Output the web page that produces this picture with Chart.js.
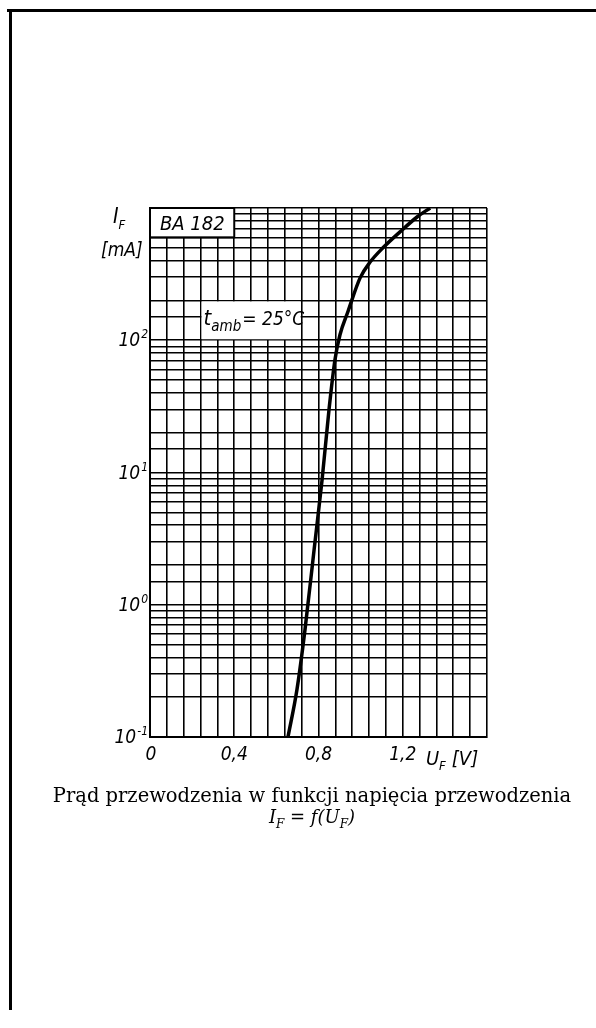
<!DOCTYPE html>
<html>
<head>
<meta charset="utf-8">
<script src="https://cdn.jsdelivr.net/npm/chart.js@4.4.1/dist/chart.umd.min.js"></script>
<style>
html, body { margin: 0; padding: 0; background: #fff; }
body { width: 596px; height: 1028px; position: relative; overflow: hidden; }
#chart { position: absolute; left: 0; top: 0; }
.ruleTop { position: absolute; left: 7px; top: 9px; width: 589px; height: 3px; background: #000; }
.ruleLeft { position: absolute; left: 9px; top: 10px; width: 3px; height: 1000px; background: #000; }
.cap { position: absolute; left: 0; width: 624px; text-align: center; font-family: "DejaVu Serif", serif; color: #000; white-space: nowrap; }
#cap1 { top: 784px; font-size: 19.5px; }
#cap2 { top: 806px; font-size: 18px; font-style: italic; }
#cap2 sub { font-size: 12px; }
</style>
</head>
<body>
<div class="ruleTop"></div>
<div class="ruleLeft"></div>
<canvas id="chart" width="596" height="1028"></canvas>
<div class="cap" id="cap1">Prąd przewodzenia w funkcji napięcia przewodzenia</div>
<div class="cap" id="cap2">I<sub>F</sub> = f(U<sub>F</sub>)</div>
<script>
// BA 182, I_F = f(U_F)
const curveVolts     = [0.655, 0.698, 0.736, 0.779, 0.817, 0.85, 0.878, 0.902, 0.94, 0.997, 1.045, 1.106, 1.187, 1.268, 1.33];
const curveMilliamps = [0.1,   0.23,  0.65,  2.6,   8.8,   30,   71,    110,   165,  295,   390,   500,   660,   855,   1000];

const xTickValues = [0, 0.4, 0.8, 1.2];
const xTickLabels = ["0", "0,4", "0,8", "1,2"];
const xMin = 0, xMax = 1.6, xStep = 0.08;

const yDecades = [0.1, 1, 10, 100];
const yDecadeExp = ["-1", "0", "1", "2"];
const yMin = 0.1, yMax = 1000;

const FONT = '"Liberation Sans Narrow", "DejaVu Sans Condensed", sans-serif';

function textSub(ctx, main, sub, x, y, size, subSize, drop) {
    ctx.font = "italic " + size + "px " + FONT;
    ctx.fillText(main, x, y);
    let w = ctx.measureText(main).width;
    ctx.font = "italic " + subSize + "px " + FONT;
    ctx.fillText(sub, x + w, y + drop);
    return x + w + ctx.measureText(sub).width;
}

const decorations = {
    id: "decorations",
    beforeDatasetsDraw(chart) {
        const ctx = chart.ctx;
        const xs = chart.scales.x;
        const ys = chart.scales.y;
        ctx.save();
        ctx.fillStyle = "#fff";
        ctx.strokeStyle = "#000";
        ctx.lineWidth = 2;

        // BA 182 box, top-left corner
        let l = xs.getPixelForValue(0), r = xs.getPixelForValue(0.4);
        let t = ys.getPixelForValue(1000), b = ys.getPixelForValue(600);
        ctx.fillRect(l, t, r - l, b - t);
        ctx.strokeRect(l, t, r - l, b - t);

        // t_amb box (white, edges are the grid lines)
        let l2 = xs.getPixelForValue(0.24), r2 = xs.getPixelForValue(0.72);
        let t2 = ys.getPixelForValue(200), b2 = ys.getPixelForValue(100);
        ctx.fillRect(l2 + 1, t2 + 1, r2 - l2 - 2, b2 - t2 - 2);

        ctx.fillStyle = "#000";
        ctx.textBaseline = "alphabetic";
        ctx.textAlign = "left";
        ctx.font = "italic 20px " + FONT;
        ctx.fillText("BA 182", l + 10, b - 7);

        let e = textSub(ctx, "t", "amb", l2 + 3, t2 + 25, 22, 15, 6);
        ctx.font = "italic 19px " + FONT;
        ctx.fillText("= 25°C", e + 1, t2 + 25);
        ctx.restore();
    },
    afterDraw(chart) {
        const ctx = chart.ctx;
        const xs = chart.scales.x;
        const ys = chart.scales.y;
        const area = chart.chartArea;
        ctx.save();
        ctx.fillStyle = "#000";
        ctx.textBaseline = "alphabetic";

        // y decade labels 10^n
        for (let i = 0; i < yDecades.length; i++) {
            let y = ys.getPixelForValue(yDecades[i]);
            ctx.font = "italic 12px " + FONT;
            let ew = ctx.measureText(yDecadeExp[i]).width;
            ctx.textAlign = "right";
            ctx.fillText(yDecadeExp[i], area.left - 2, y - 2);
            ctx.font = "italic 19px " + FONT;
            ctx.fillText("10", area.left - 3 - ew, y + 6);
        }

        // x tick labels
        ctx.textAlign = "center";
        ctx.font = "italic 19px " + FONT;
        for (let i = 0; i < xTickValues.length; i++) {
            let x = xs.getPixelForValue(xTickValues[i]);
            ctx.fillText(xTickLabels[i], x + (i === 0 ? 1 : 0), area.bottom + 23);
        }

        // axis names
        ctx.textAlign = "left";
        textSub(ctx, "I", "F", area.left - 37, area.top + 15, 21, 13, 6);
        ctx.font = "italic 19px " + FONT;
        ctx.fillText("[mA]", area.left - 49, area.top + 48);

        let ux = xs.getPixelForValue(1.31);
        let uy = area.bottom + 28;
        let e = textSub(ctx, "U", "F", ux, uy, 20, 13, 5);
        ctx.font = "italic 20px " + FONT;
        ctx.fillText("[V]", e + 6, uy);
        ctx.restore();
    }
};

const points = curveVolts.map((v, i) => ({ x: v, y: curveMilliamps[i] }));

new Chart(document.getElementById("chart"), {
    type: "line",
    data: {
        datasets: [{
            data: points,
            borderColor: "#000",
            borderWidth: 3.5,
            pointRadius: 0,
            fill: false,
            cubicInterpolationMode: "monotone"
        }]
    },
    options: {
        responsive: false,
        animation: false,
        events: [],
        layout: { padding: { left: 150, top: 208, right: 109, bottom: 291 } },
        plugins: { legend: { display: false }, tooltip: { enabled: false } },
        scales: {
            x: {
                type: "linear",
                min: xMin,
                max: xMax,
                afterBuildTicks(scale) {
                    let ticks = [];
                    for (let i = 0; i <= Math.round((xMax - xMin) / xStep); i++)
                        ticks.push({ value: xMin + i * xStep });
                    scale.ticks = ticks;
                },
                afterFit(scale) { scale.height = 0; },
                grid: { color: "#000", lineWidth: 1.6, drawTicks: false },
                border: { color: "#000", width: 2 },
                ticks: { display: false, autoSkip: false }
            },
            y: {
                type: "logarithmic",
                min: yMin,
                max: yMax,
                afterFit(scale) { scale.width = 0; },
                grid: { color: "#000", lineWidth: 1.6, drawTicks: false },
                border: { color: "#000", width: 2 },
                ticks: { display: false, autoSkip: false }
            }
        }
    },
    plugins: [decorations]
});
</script>
</body>
</html>
